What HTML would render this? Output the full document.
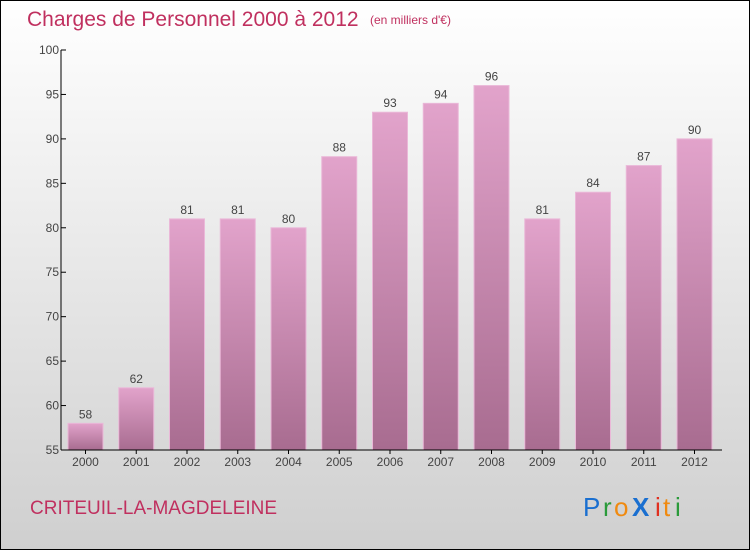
<!DOCTYPE html>
<html><head><meta charset="utf-8"><style>
body{margin:0;width:750px;height:550px;overflow:hidden;font-family:"Liberation Sans",sans-serif}
</style></head><body>
<svg width="750" height="550" viewBox="0 0 750 550">
<defs>
<linearGradient id="bg" x1="0" y1="0" x2="0" y2="1"><stop offset="0" stop-color="#ffffff"/><stop offset="1" stop-color="#cfcfcf"/></linearGradient>
<linearGradient id="bar" x1="0" y1="0" x2="0" y2="1"><stop offset="0" stop-color="#e2a3cb"/><stop offset="1" stop-color="#a86c90"/></linearGradient>
</defs>
<rect x="0.5" y="0.5" width="749" height="549" fill="url(#bg)" stroke="#000"/>
<text x="27" y="26" font-size="21" fill="#c0305f">Charges de Personnel 2000 à 2012</text>
<text x="370" y="24" font-size="12" fill="#c0305f">(en milliers d'€)</text>
<g id="plot"></g>
<text x="30" y="514" font-size="19" fill="#c0305f">CRITEUIL-LA-MAGDELEINE</text>
<g font-size="26" font-family="'Liberation Sans',sans-serif">
<text x="583" y="516" fill="#1a6fd0">P</text><text x="603" y="516" fill="#2a9a3a">r</text><text x="614" y="516" fill="#f08a10">o</text><text x="632" y="516" fill="#1a6fd0" font-weight="bold">X</text><text x="655" y="516" fill="#e03020">i</text><text x="663" y="516" fill="#f08a10">t</text><text x="675" y="516" fill="#2a9a3a">i</text>
</g>
</svg>
<script>
const years=["2000","2001","2002","2003","2004","2005","2006","2007","2008","2009","2010","2011","2012"];
const values=[58,62,81,81,80,88,93,94,96,81,84,87,90];
const ticks=[55,60,65,70,75,80,85,90,95,100];
const NS="http://www.w3.org/2000/svg";
const g=document.getElementById('plot');
const y=v=>450-(v-55)*400/45;
const x=i=>85.5+i*50.75;
function mk(t,a,p){const e=document.createElementNS(NS,t);for(const k in a)e.setAttribute(k,a[k]);(p||g).appendChild(e);return e;}
values.forEach((v,i)=>{
 const r=mk('rect',{x:x(i)-17.5,y:y(v),width:35,height:450-y(v),fill:'url(#bar)',stroke:'#eab8d8','stroke-width':1});
 
 
 const t=mk('text',{x:x(i),y:y(v)-5,'text-anchor':'middle','font-size':12,fill:'#444'});
 t.textContent=v;
 
 
 const xl=mk('text',{x:x(i),y:466,'text-anchor':'middle','font-size':12,fill:'#444'});
 xl.textContent=years[i];
 
 
 const tk=mk('line',{x1:x(i),x2:x(i),y1:450,y2:454,stroke:'#000'});
 
 
});
ticks.forEach(v=>{
 const l=mk('line',{x1:61,x2:66,y1:y(v),y2:y(v),stroke:'#000'});
 
 
 const t=mk('text',{x:59,y:y(v)+4,'text-anchor':'end','font-size':12,fill:'#444'});
 t.textContent=v;
 
 
});
const ya=mk('line',{x1:61,x2:61,y1:50,y2:450,stroke:'#000'});


const xa=mk('line',{x1:61,x2:722,y1:450,y2:450,stroke:'#000'});


</script>
</body></html>
